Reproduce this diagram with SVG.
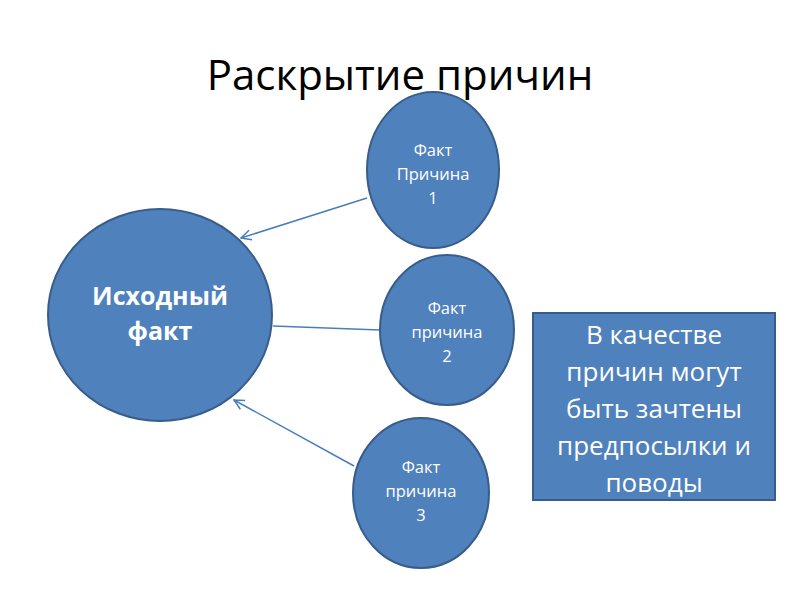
<svg xmlns="http://www.w3.org/2000/svg" width="800" height="600" viewBox="0 0 800 600">
<defs>
<marker id="ah" markerWidth="12" markerHeight="12" refX="11" refY="6" orient="auto" markerUnits="userSpaceOnUse">
<path d="M1,1 L11,6 L1,11" fill="none" stroke="#4A7EBB" stroke-width="1.5"/>
</marker>
</defs>
<style>
.node{fill:#4F81BD;stroke:#385D8A;stroke-width:2}
.t{fill:#FFFFFF;font-family:"Open Sans","Noto Sans","Liberation Sans",sans-serif;text-anchor:middle}
.s{font-size:16.5px}
.conn{stroke:#4A7EBB;stroke-width:1.5;fill:none}
</style>
<rect width="800" height="600" fill="#FFFFFF"/>
<text x="400" y="90" font-family="Open Sans, Noto Sans, Liberation Sans, sans-serif" font-size="42" text-anchor="middle" fill="#000000">Раскрытие причин</text>
<g id="connectors">
<line class="conn" x1="367" y1="198" x2="241" y2="238" marker-end="url(#ah)"/>
<line class="conn" x1="380" y1="330" x2="273" y2="326"/>
<line class="conn" x1="354" y1="466" x2="234" y2="400" marker-end="url(#ah)"/>
</g>
<g id="main">
<ellipse class="node" cx="160" cy="315" rx="112" ry="106"/>
<text class="t" x="160" y="305" font-size="25" font-weight="bold">Исходный</text>
<text class="t" x="160" y="340" font-size="25" font-weight="bold">факт</text>
</g>
<g id="cause1">
<ellipse class="node" cx="433" cy="170" rx="66" ry="78"/>
<text class="t s" x="433" y="156">Факт</text>
<text class="t s" x="433" y="180">Причина</text>
<text class="t s" x="433" y="204">1</text>
</g>
<g id="cause2">
<ellipse class="node" cx="447" cy="330" rx="67" ry="75"/>
<text class="t s" x="447" y="314">Факт</text>
<text class="t s" x="447" y="338">причина</text>
<text class="t s" x="447" y="362">2</text>
</g>
<g id="cause3">
<ellipse class="node" cx="421" cy="493" rx="68" ry="75"/>
<text class="t s" x="421" y="473">Факт</text>
<text class="t s" x="421" y="497">причина</text>
<text class="t s" x="421" y="521">3</text>
</g>
<g id="note">
<rect class="node" x="533" y="313" width="242" height="187"/>
<text class="t" x="654" y="344" font-size="26">В качестве</text>
<text class="t" x="654" y="381" font-size="26">причин могут</text>
<text class="t" x="654" y="418" font-size="26">быть зачтены</text>
<text class="t" x="654" y="455" font-size="26">предпосылки и</text>
<text class="t" x="654" y="492" font-size="26">поводы</text>
</g>
</svg>
